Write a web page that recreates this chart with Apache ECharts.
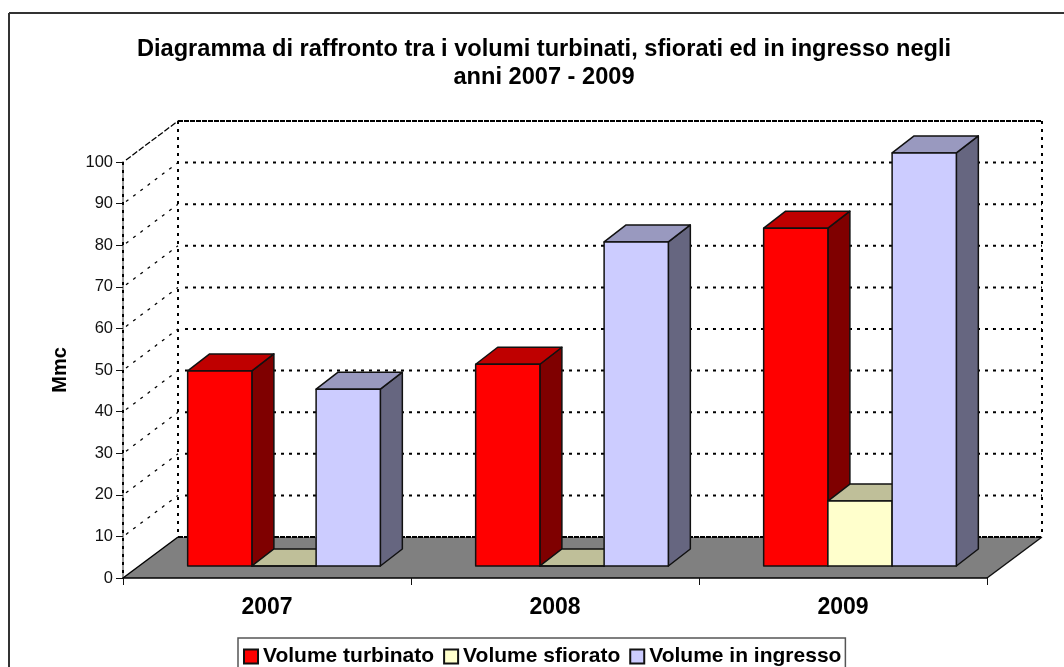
<!DOCTYPE html>
<html>
<head>
<meta charset="utf-8">
<title>Volumi turbinati, sfiorati ed in ingresso</title>
<script src="https://cdn.jsdelivr.net/npm/echarts@6/dist/echarts.min.js"></script>
<style>
  html, body { margin: 0; padding: 0; background: #fff; }
  #chart { width: 1064px; height: 667px; }
</style>
</head>
<body>
<div id="chart"></div>
<script>
const years = ["2007", "2008", "2009"]
const turbinato = [46.9, 48.5, 81.2]
const sfiorato = [0, 0, 15.6]
const ingresso = [42.5, 77.9, 99.3]
const gridTicks = [0, 10, 20, 30, 40, 50, 60, 70, 80, 90, 100]

const FONT = "Liberation Sans, Arial, sans-serif"
// oblique offset of the back wall and of the bars' front/back planes
const WALL = { dx: 55, dy: -41 }
const BAR_FRONT = { dx: 17, dy: -12 }
const BAR_DEPTH = { dx: 22, dy: -17 }
const BAR_SHARE = 0.223
const EDGE = "#111"

const FACES = {
  turbinato: { front: "#ff0000", top: "#bf0000", side: "#7f0000" },
  sfiorato: { front: "#ffffcc", top: "#bfbf99", side: "#7f7f66" },
  ingresso: { front: "#ccccff", top: "#9999bf", side: "#666680" }
}

function face(points, fill) {
  return {
    type: "polygon",
    shape: { points },
    style: { fill, stroke: EDGE, lineWidth: 1.5, lineJoin: "round" }
  }
}

function line(x1, y1, x2, y2, stroke, lineWidth, lineDash) {
  return {
    type: "line",
    shape: { x1, y1, x2, y2 },
    style: { stroke, lineWidth, lineDash, fill: null }
  }
}

function renderBox(offset, colors) {
  return (params, api) => {
    const [cx, top] = api.coord([api.value(0), api.value(1)])
    const base = api.coord([api.value(0), 0])[1]
    const band = api.size([1, 0])[0]
    const w = band * BAR_SHARE
    const x0 = cx + BAR_FRONT.dx + offset * w - w / 2
    const x1 = x0 + w
    const y0 = top + BAR_FRONT.dy
    const y1 = base + BAR_FRONT.dy
    const { dx, dy } = BAR_DEPTH

    return {
      type: "group",
      children: [
        face([[x1, y0], [x1 + dx, y0 + dy], [x1 + dx, y1 + dy], [x1, y1]], colors.side),
        face([[x0, y0], [x1, y0], [x1 + dx, y0 + dy], [x0 + dx, y0 + dy]], colors.top),
        face([[x0, y0], [x1, y0], [x1, y1], [x0, y1]], colors.front)
      ]
    }
  }
}

function renderWalls(params, api) {
  const band = api.size([1, 0])[0]
  const left = api.coord([0, 0])[0] - band / 2
  const right = api.coord([years.length - 1, 0])[0] + band / 2
  const bottom = api.coord([0, 0])[1]
  const top = api.coord([0, 100])[1]
  const { dx, dy } = WALL
  const children = [
    { type: "rect", shape: { x: left + dx, y: top + dy, width: right - left, height: bottom - top }, style: { fill: "#fff" } },
    { type: "polygon", shape: { points: [[left, bottom], [right, bottom], [right + dx, bottom + dy], [left + dx, bottom + dy]] }, style: { fill: "#808080" } }
  ]

  gridTicks.forEach((tick) => {
    const y = api.coord([0, tick])[1]
    if (tick > 0) {
      children.push(line(left + 3, y - 2, left + dx, y + dy, "#000", 1.3, tick === 100 ? [6, 2] : [3, 6]))
    }
    if (tick > 0 && tick < 100) {
      children.push(line(left + dx + 7, y + dy, right + dx, y + dy, "#000", 2, [3, 5]))
    }
  })

  children.push(
    line(left, bottom, left + dx, bottom + dy, "#000", 1.5),
    line(right, bottom, right + dx, bottom + dy, "#111", 1.5),
    line(left + dx, bottom + dy, right + dx, bottom + dy, "#000", 2, [5, 1]),
    line(left + dx, top + dy, right + dx, top + dy, "#000", 2, [5, 1]),
    line(left + dx, top + dy, left + dx, bottom + dy, "#000", 2, [3, 5]),
    line(right + dx, top + dy, right + dx, bottom + dy, "#000", 2, [3, 5]),
    line(left, top, left, bottom, "#000", 2, [3, 5])
  )

  return { type: "group", children }
}

function boxSeries(name, values, offset, colors) {
  return {
    name,
    type: "custom",
    z: 3,
    clip: false,
    silent: true,
    itemStyle: { color: colors.front, borderColor: EDGE, borderWidth: 1.5 },
    renderItem: renderBox(offset, colors),
    data: values.map((value, index) => [index, value])
  }
}

const chart = echarts.init(document.getElementById("chart"), null, { renderer: "canvas" })

chart.setOption({
  animation: false,
  backgroundColor: "#fff",
  title: {
    text: "Diagramma di raffronto tra i volumi turbinati, sfiorati ed in ingresso negli\nanni 2007 - 2009",
    left: 539,
    top: 30,
    textAlign: "center",
    textStyle: { fontFamily: FONT, fontSize: 23.6, fontWeight: "bold", color: "#000", lineHeight: 28, align: "center" }
  },
  legend: {
    left: 238,
    top: 638,
    padding: [8, 4, 20, 5],
    itemGap: 9,
    itemWidth: 14,
    itemHeight: 14,
    icon: "rect",
    borderColor: "#555",
    borderWidth: 1.5,
    textStyle: { fontFamily: FONT, fontSize: 21, fontWeight: "bold", color: "#000" },
    data: ["Volume turbinato", "Volume sfiorato", "Volume in ingresso"]
  },
  grid: { left: 123, top: 162, width: 864, height: 416 },
  xAxis: {
    type: "category",
    data: years,
    boundaryGap: true,
    z: 5,
    axisLine: { show: true, lineStyle: { color: "#000", width: 1.5 } },
    axisTick: { show: true, alignWithLabel: false, length: 7, lineStyle: { color: "#111", width: 1 } },
    axisLabel: { fontFamily: FONT, fontSize: 23, fontWeight: "bold", color: "#000", margin: 18 }
  },
  yAxis: {
    type: "value",
    min: 0,
    max: 100,
    interval: 10,
    name: "Mmc",
    nameLocation: "middle",
    nameGap: 53,
    nameTextStyle: { fontFamily: FONT, fontSize: 20, fontWeight: "bold", color: "#000" },
    splitLine: { show: false },
    axisLine: { show: true, lineStyle: { color: "#999", width: 2 } },
    axisTick: { show: true, length: 7, lineStyle: { color: "#111", width: 1 } },
    axisLabel: { fontFamily: FONT, fontSize: 16.5, color: "#111", margin: 10 }
  },
  graphic: [
    { type: "line", silent: true, shape: { x1: 9, y1: 13, x2: 9, y2: 667 }, style: { stroke: "#333", lineWidth: 2 } },
    { type: "line", silent: true, shape: { x1: 9, y1: 13, x2: 1064, y2: 13 }, style: { stroke: "#333", lineWidth: 2 } }
  ],
  series: [
    { type: "custom", z: 1, clip: false, silent: true, renderItem: renderWalls, data: [[0, 0]] },
    boxSeries("Volume turbinato", turbinato, -1, FACES.turbinato),
    boxSeries("Volume sfiorato", sfiorato, 0, FACES.sfiorato),
    boxSeries("Volume in ingresso", ingresso, 1, FACES.ingresso)
  ]
})
</script>
</body>
</html>
